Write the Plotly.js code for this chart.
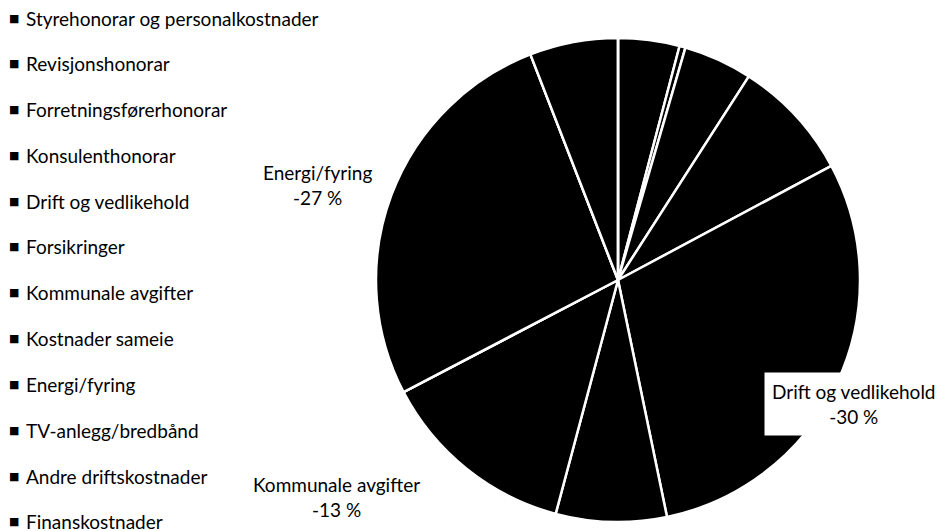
<!DOCTYPE html>
<html>
<head>
<meta charset="utf-8">
<script src="https://cdn.plot.ly/plotly-3.0.1.min.js"></script>
<style>
  html, body { margin: 0; padding: 0; background: #fff; }
  #chart { width: 935px; height: 531px; }
</style>
</head>
<body>
<div id="chart"></div>
<script>
// ---- Data ----
const categories = [
  "Styrehonorar og personalkostnader",
  "Revisjonshonorar",
  "Forretningsførerhonorar",
  "Konsulenthonorar",
  "Drift og vedlikehold",
  "Forsikringer",
  "Kommunale avgifter",
  "Kostnader sameie",
  "Energi/fyring",
  "TV-anlegg/bredbånd",
  "Andre driftskostnader",
  "Finanskostnader"
];
const shares = [4.1, 0.4, 4.6, 8.1, 29.6, 7.4, 13.2, 0, 26.8, 0, 5.9, 0];
const labelledCategories = ["Drift og vedlikehold", "Kommunale avgifter", "Energi/fyring"];

// ---- Layout helpers (pixel -> paper, margins are 0) ----
const W = 935, H = 531;
const px = x => x / W;
const py = y => 1 - y / H;
const FONT = "Lato, 'Open Sans', sans-serif";
const FS = 19;

// Pie geometry
const cx = 618, cy = 280, r = 242;

// Data label positions (layout only)
const labelPos = {
  "Drift og vedlikehold": {x: 854, y: 404, box: true},
  "Kommunale avgifter": {x: 336, y: 497, box: false},
  "Energi/fyring": {x: 317, y: 185, box: false}
};

const annotations = [];
// Legend built from categories
categories.forEach((c, i) => {
  const y = 18 + i * 45.8;
  annotations.push({
    xref: 'paper', yref: 'paper', x: px(14), y: py(y), xanchor: 'center', yanchor: 'middle',
    text: '■', showarrow: false, font: {family: "DejaVu Sans", size: 11, color: '#000'}
  });
  annotations.push({
    xref: 'paper', yref: 'paper', x: px(24), y: py(y), xanchor: 'left', yanchor: 'middle',
    text: c, showarrow: false, font: {family: FONT, size: FS, color: '#000'}
  });
});
// Data labels
labelledCategories.forEach(c => {
  const i = categories.indexOf(c);
  const p = labelPos[c];
  annotations.push({
    xref: 'paper', yref: 'paper', x: px(p.x), y: py(p.y), xanchor: 'center', yanchor: 'middle',
    text: c + '<br>-' + Math.round(shares[i]) + ' %', showarrow: false, align: 'center',
    font: {family: FONT, size: FS, color: '#000'},
    bgcolor: p.box ? '#ffffff' : 'rgba(0,0,0,0)', borderpad: p.box ? 7 : 0
  });
});

const trace = {
  type: 'pie',
  labels: categories,
  values: shares,
  sort: false,
  direction: 'clockwise',
  rotation: 0,
  textinfo: 'none',
  hoverinfo: 'label+percent',
  marker: {colors: categories.map(() => '#000000'), line: {color: '#ffffff', width: 2.5}},
  domain: {x: [px(cx - r), px(cx + r)], y: [py(cy + r), py(cy - r)]},
  showlegend: false
};

const layout = {
  width: W, height: H,
  margin: {l: 0, r: 0, t: 0, b: 0},
  paper_bgcolor: '#ffffff',
  plot_bgcolor: '#ffffff',
  showlegend: false,
  font: {family: FONT, color: '#000'},
  annotations: annotations
};

Plotly.newPlot('chart', [trace], layout, {displayModeBar: false, staticPlot: true});
</script>
</body>
</html>
